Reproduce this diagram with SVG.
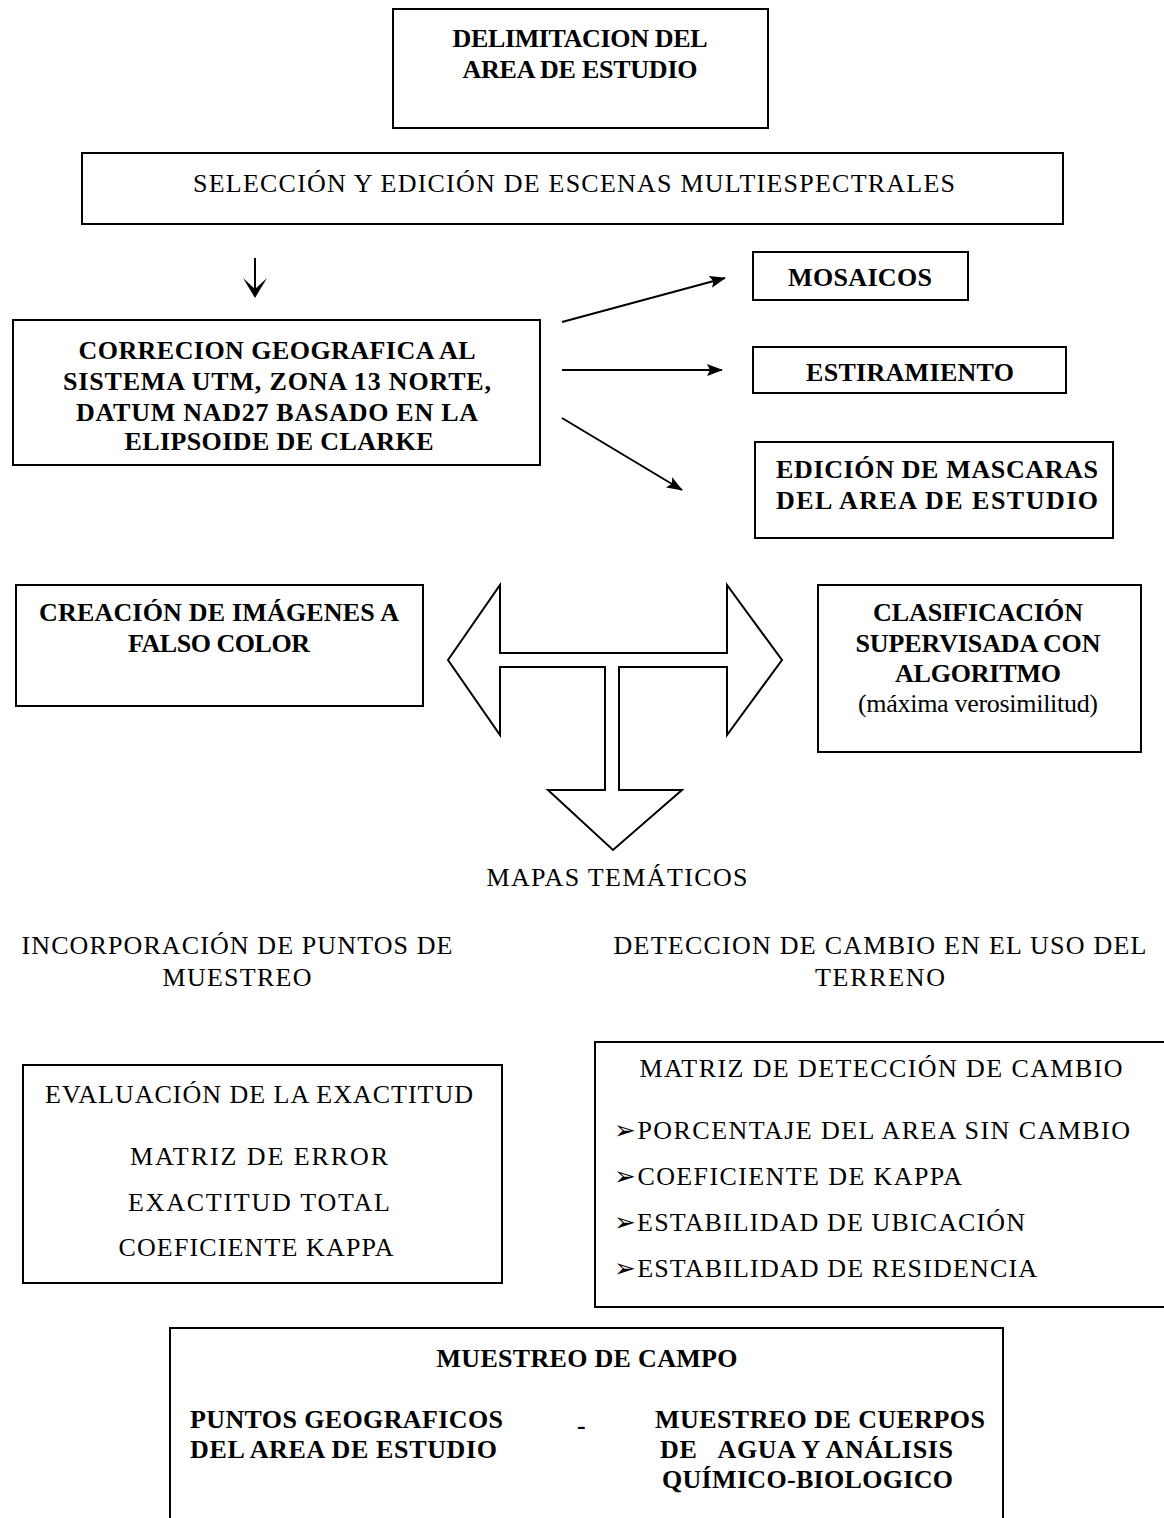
<svg xmlns="http://www.w3.org/2000/svg" width="1164" height="1518" viewBox="0 0 1164 1518">
<style>
.box{fill:none;stroke:#000;stroke-width:2}
.b{font-family:"Liberation Serif","Times New Roman",serif;font-weight:bold;font-size:26px;fill:#000}
.n{font-family:"Liberation Serif","Times New Roman",serif;font-size:26px;fill:#000}
.c{text-anchor:middle}
.ln{stroke:#000;stroke-width:2;fill:none}
</style>
<defs>
<marker id="ah" viewBox="0 0 16 12" refX="15" refY="6" markerWidth="16" markerHeight="12" markerUnits="userSpaceOnUse" orient="auto"><path d="M0,0 L16,6 L0,12 L3,6 Z" fill="#000"/></marker>
</defs>
<rect width="1164" height="1518" fill="#fff"/>
<g id="n1"><rect class="box" x="393" y="9" width="375" height="119"/>
<text class="b c" x="580" y="47" textLength="255">DELIMITACION DEL</text><text class="b c" x="580" y="78" textLength="235">AREA DE ESTUDIO</text></g>
<g id="n2"><rect class="box" x="82" y="153" width="981" height="71"/>
<text class="n c" x="574" y="192" textLength="762">SELECCIÓN Y EDICIÓN DE ESCENAS MULTIESPECTRALES</text></g>
<g id="n3"><rect class="box" x="13" y="320" width="527" height="145"/>
<text class="b c" x="277" y="359" textLength="397">CORRECION GEOGRAFICA AL</text>
<text class="b c" x="277" y="390" textLength="428">SISTEMA UTM, ZONA 13 NORTE,</text>
<text class="b c" x="277" y="421" textLength="402">DATUM NAD27 BASADO EN LA</text>
<text class="b c" x="279" y="450" textLength="309">ELIPSOIDE DE CLARKE</text></g>
<g id="n4"><rect class="box" x="753" y="252" width="215" height="48"/><text class="b c" x="860" y="286" textLength="144">MOSAICOS</text></g>
<g id="n5"><rect class="box" x="753" y="347" width="313" height="46"/><text class="b c" x="910" y="381" textLength="208">ESTIRAMIENTO</text></g>
<g id="n6"><rect class="box" x="755" y="442" width="358" height="96"/>
<text class="b c" x="937" y="478" textLength="322">EDICIÓN DE MASCARAS</text><text class="b c" x="937" y="509" textLength="322">DEL AREA DE ESTUDIO</text></g>
<g id="n7"><rect class="box" x="16" y="585" width="407" height="121"/>
<text class="b c" x="219" y="621" textLength="360">CREACIÓN DE IMÁGENES A</text><text class="b c" x="219" y="652" textLength="182">FALSO COLOR</text></g>
<g id="n8"><rect class="box" x="818" y="585" width="323" height="167"/>
<text class="b c" x="978" y="621" textLength="210">CLASIFICACIÓN</text>
<text class="b c" x="978" y="652" textLength="245">SUPERVISADA CON</text>
<text class="b c" x="978" y="682" textLength="166">ALGORITMO</text>
<text class="n c" x="978" y="712" textLength="240">(máxima verosimilitud)</text></g>
<g id="n9"><text class="n c" x="617" y="886" textLength="261">MAPAS TEMÁTICOS</text></g>
<g id="n10"><text class="n c" x="237" y="954" textLength="431">INCORPORACIÓN DE PUNTOS DE</text><text class="n c" x="237" y="986" textLength="149">MUESTREO</text></g>
<g id="n11"><text class="n c" x="880" y="954" textLength="533">DETECCION DE CAMBIO EN EL USO DEL</text><text class="n c" x="880" y="986" textLength="130">TERRENO</text></g>
<g id="n12"><rect class="box" x="23" y="1065" width="479" height="218"/>
<text class="n c" x="259" y="1103" textLength="428">EVALUACIÓN DE LA EXACTITUD</text>
<text class="n c" x="259" y="1165" textLength="258">MATRIZ DE ERROR</text>
<text class="n c" x="259" y="1211" textLength="262">EXACTITUD TOTAL</text>
<text class="n c" x="256" y="1256" textLength="275">COEFICIENTE KAPPA</text></g>
<g id="n13"><path class="ln" d="M1164,1042 H595 V1307 H1164"/>
<text class="n c" x="881" y="1077" textLength="483">MATRIZ DE DETECCIÓN DE CAMBIO</text>
<text class="n" x="614" y="1139" textLength="516">➢PORCENTAJE DEL AREA SIN CAMBIO</text>
<text class="n" x="614" y="1185" textLength="348">➢COEFICIENTE DE KAPPA</text>
<text class="n" x="614" y="1231" textLength="411">➢ESTABILIDAD DE UBICACIÓN</text>
<text class="n" x="614" y="1277" textLength="423">➢ESTABILIDAD DE RESIDENCIA</text></g>
<g id="n14"><path class="ln" d="M170,1518 V1328 H1003 V1518"/>
<text class="b c" x="587" y="1367" textLength="301">MUESTREO DE CAMPO</text>
<text class="b" x="190" y="1428" textLength="313">PUNTOS GEOGRAFICOS</text>
<text class="b" x="190" y="1458" textLength="307">DEL AREA DE ESTUDIO</text>
<text class="b" x="577" y="1434">-</text>
<text class="b" x="655" y="1428" textLength="330">MUESTREO DE CUERPOS</text>
<text class="b" x="660" y="1458" textLength="293" xml:space="preserve">DE   AGUA Y ANÁLISIS</text>
<text class="b" x="662" y="1488" textLength="291">QUÍMICO-BIOLOGICO</text></g>
<g id="connectors">
<line class="ln" x1="255" y1="258" x2="255" y2="294"/>
<polygon points="243,278 255,298 267,278 255,289" fill="#000"/>
<line class="ln" x1="562" y1="322" x2="725" y2="278" marker-end="url(#ah)"/>
<line class="ln" x1="562" y1="370" x2="722" y2="370" marker-end="url(#ah)"/>
<line class="ln" x1="562" y1="418" x2="682" y2="490" marker-end="url(#ah)"/>
<polygon class="ln" points="448,660 500,585 500,653 727,653 727,585 782,660 727,735 727,667 619,667 619,790 682,790 613,850 548,790 605,790 605,667 500,667 500,735"/>
</g>
</svg>
